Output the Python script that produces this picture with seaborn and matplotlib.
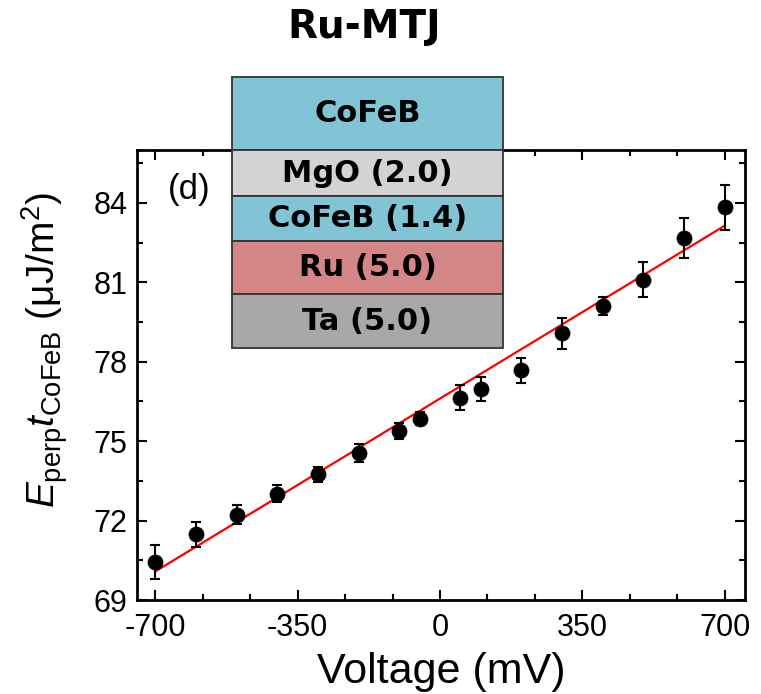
import numpy as np
import pandas as pd
import matplotlib
matplotlib.use("Agg")
import matplotlib.pyplot as plt
from matplotlib.patches import Rectangle
import seaborn as sns

# ---- data ----
voltage = [-700, -600, -500, -400, -300, -200, -100, -50,
           50, 100, 200, 300, 400, 500, 600, 700]
energy = [70.43, 71.48, 72.22, 73.02, 73.75, 74.55, 75.40, 75.85,
          76.64, 76.96, 77.68, 79.08, 80.10, 81.10, 82.68, 83.83]
energy_err = [0.64, 0.46, 0.36, 0.31, 0.29, 0.35, 0.30, 0.25,
              0.47, 0.45, 0.48, 0.58, 0.34, 0.66, 0.75, 0.86]
fit_voltage = [-700, 700]
fit_energy = [70.08, 83.14]

x_ticks = [-700, -350, 0, 350, 700]
y_ticks = [69, 72, 75, 78, 81, 84]

layer_labels = ["CoFeB", "MgO (2.0)", "CoFeB (1.4)", "Ru (5.0)", "Ta (5.0)"]
layer_colors = ["#80C4D6", "#D3D3D3", "#80C4D6", "#D48585", "#A8A8A8"]

# ---- style ----
sns.set_style("ticks")
plt.rcParams["font.family"] = ["Liberation Sans", "DejaVu Sans"]
plt.rcParams["mathtext.fontset"] = "custom"
plt.rcParams["mathtext.rm"] = "Liberation Sans"
plt.rcParams["mathtext.it"] = "Liberation Sans:italic"
plt.rcParams["mathtext.bf"] = "Liberation Sans:bold"
plt.rcParams["axes.unicode_minus"] = False
for k in ["text.color", "axes.labelcolor", "xtick.color", "ytick.color",
          "axes.edgecolor"]:
    plt.rcParams[k] = "black"

W, H = 761, 694
fig = plt.figure(figsize=(W / 100, H / 100), dpi=100)
ax = fig.add_axes([137 / W, (H - 600) / H, (745 - 137) / W, (600 - 150) / H])

df = pd.DataFrame({"V": voltage, "E": energy, "err": energy_err})
fit_df = pd.DataFrame({"V": fit_voltage, "E": fit_energy})

sns.lineplot(data=fit_df, x="V", y="E", color="#FF0000", lw=1.6, ax=ax, zorder=2)
ax.errorbar(df["V"], df["E"], yerr=df["err"], fmt="none", ecolor="black",
            elinewidth=1.5, capsize=3.3, capthick=1.5, zorder=3)
sns.scatterplot(data=df, x="V", y="E", color="black", s=118, edgecolor="black",
                linewidth=0.5, ax=ax, zorder=4)

ax.set_xlim(-745, 750)
ax.set_ylim(69, 86)
ax.set_xticks(x_ticks)
ax.set_yticks(y_ticks)
ax.set_xticks(np.arange(-700, 701, 350 / 3), minor=True)
ax.set_yticks(np.arange(69, 86.1, 1.5), minor=True)
ax.tick_params(which="both", direction="in", top=True, right=True, width=1.5,
               labelsize=22, colors="black")
ax.tick_params(axis="x", which="major", pad=9)
ax.tick_params(axis="y", which="major", pad=7)
ax.tick_params(which="major", length=7)
ax.tick_params(which="minor", length=4)
for s in ax.spines.values():
    s.set_linewidth(2)
    s.set_visible(True)
    s.set_color("black")

ax.set_xlabel("Voltage (mV)", fontsize=31)
ax.xaxis.set_label_coords(0.5, -0.115)
ax.set_ylabel(r"$E_{\mathrm{perp}}t_{\mathrm{CoFeB}}$ ($\mathrm{\mu}$J/m$^2$)",
              fontsize=28)
ax.yaxis.set_label_coords(-0.11, 0.556)
ax.text(0.0855, 0.913, "(d)", transform=ax.transAxes, fontsize=25,
        ha="center", va="center")

fig.text(364 / W, 1 - 27 / H, "Ru-MTJ", fontsize=28, fontweight="bold",
         ha="center", va="center", family=["DejaVu Sans"])

# ---- layer stack inset ----
bounds = [77, 150, 196, 241, 294, 348]  # pixel rows of the stack
sx0, sx1 = 232, 503
iax = fig.add_axes([sx0 / W, (H - bounds[-1]) / H, (sx1 - sx0) / W,
                    (bounds[-1] - bounds[0]) / H], zorder=10)
iax.set_xlim(0, 1)
iax.set_ylim(bounds[-1], bounds[0])
iax.axis("off")
for i, (lab, col) in enumerate(zip(layer_labels, layer_colors)):
    top, bot = bounds[i], bounds[i + 1]
    iax.add_patch(Rectangle((0, top), 1, bot - top, facecolor=col,
                            edgecolor="#333333", lw=1.3, clip_on=False))
    iax.text(0.5, (top + bot) / 2, lab, ha="center", va="center",
             fontsize=22, fontweight="bold", family=["DejaVu Sans"])

fig.savefig("out.png", dpi=100)
